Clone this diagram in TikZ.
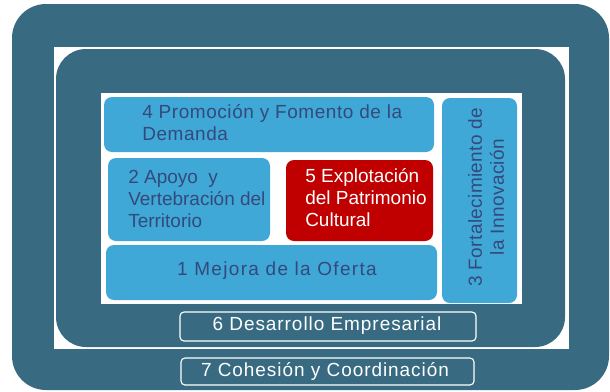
\documentclass[tikz,border=0pt]{standalone}
\usepackage{fontspec}
\setmainfont{Liberation Sans}
\usetikzlibrary{positioning}
\definecolor{marco}{HTML}{386B82}
\definecolor{celeste}{HTML}{3FA8D6}
\definecolor{rojo}{HTML}{C00000}
\definecolor{tinta}{HTML}{34497C}
\newcommand{\letra}[1]{\fontsize{13.5}{15.6}\selectfont\addfontfeature{LetterSpace=#1}}

\begin{document}
\begin{tikzpicture}[x=0.025cm, y=-0.025cm,
    every node/.style={font=\letra{0}, inner sep=0pt},
    eje/.style={fill=celeste, draw=none, rounded corners=0.2cm},
    ejetxt/.style={text=tinta, align=left},
    etiq/.style={draw=white, line width=0.8pt, rounded corners=0.1cm}]
        \useasboundingbox (0,0) rectangle (610,391);
        % outer frames
        \fill[marco, rounded corners=0.85cm] (12,4) rectangle (609,390);
        \fill[white] (54,47) rectangle (569,349);
        \fill[marco, rounded corners=0.75cm] (56,49) rectangle (565,347);
        \fill[white] (101,93) rectangle (522,304);
        % axes
        \fill[eje] (104,97) rectangle (434,152);
        \node[ejetxt, anchor=west, font=\letra{3}] (promo) at (142,123) {4 Promoción y Fomento de la\\Demanda};
        \fill[eje] (108,158) rectangle (270,241);
        \node[ejetxt, anchor=west] (apoyo) at (128,199) {2 Apoyo~~y\\Vertebración del\\Territorio};
        \fill[rojo, rounded corners=0.2cm] (286,160) rectangle (433,241);
        \node[text=white, align=left, anchor=west] (explot) at (305,198) {5 Explotación\\del Patrimonio\\Cultural};
        \fill[eje] (106,245) rectangle (437,300);
        \node[ejetxt, font=\letra{7}] (mejora) at (277,271) {1 Mejora de la Oferta};
        \fill[eje] (442,98) rectangle (517,303);
        \node[text=tinta, align=center, rotate=90, font=\letra{2}] (innov) at (486,197) {3 Fortalecimiento de\\la Innovación};
        % cross-cutting labels
        \draw[etiq] (180,312) rectangle (476,341);
        \node[text=white, font=\letra{5}] (desarr) at (327,326) {6 Desarrollo Empresarial};
        \draw[etiq] (181,358) rectangle (474,385);
        \node[text=white, font=\letra{5}] (cohes) at (325,371) {7 Cohesión y Coordinación};
      \end{tikzpicture}
\end{document}
